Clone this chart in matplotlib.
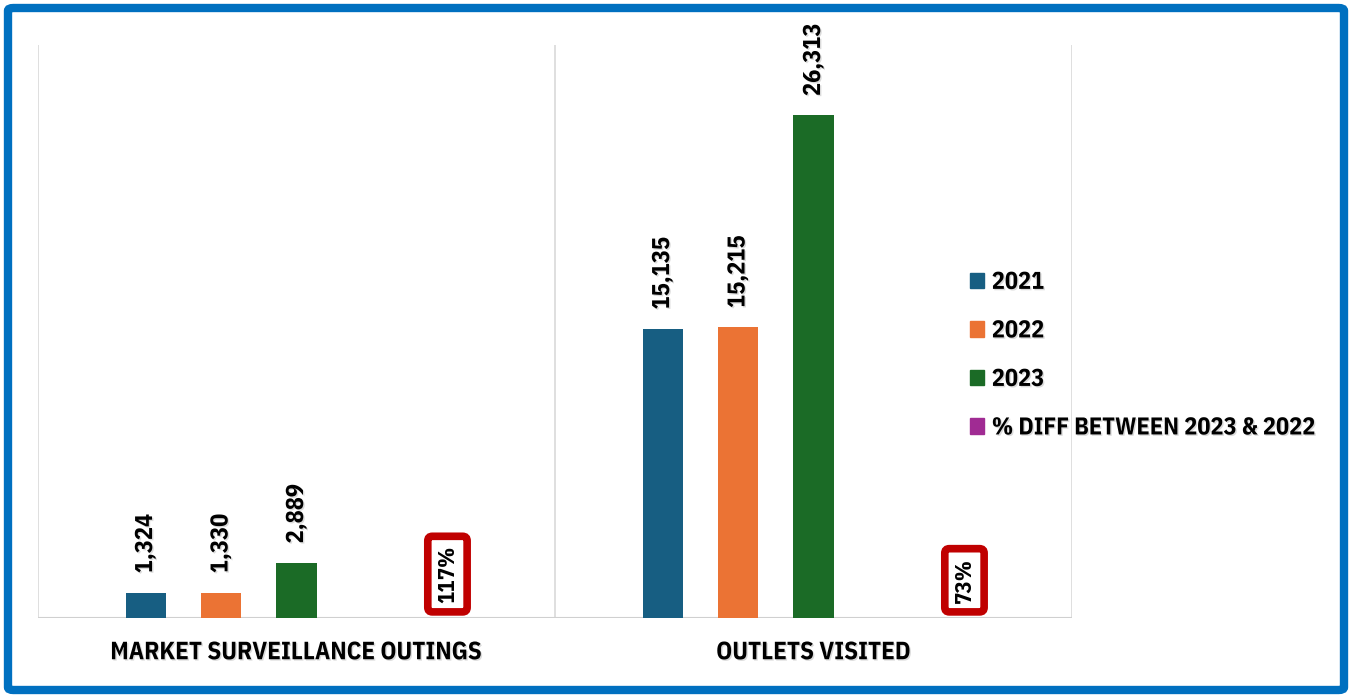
import matplotlib.pyplot as plt
import matplotlib.patheffects as pe
from matplotlib.patches import FancyBboxPatch, Patch
import numpy as np

plt.rcParams['font.family'] = ['IBM Plex Sans Condensed', 'DejaVu Sans']
plt.rcParams['font.weight'] = 'bold'

categories = ["MARKET SURVEILLANCE OUTINGS", "OUTLETS VISITED"]
series_names = ["2021", "2022", "2023", "% DIFF BETWEEN 2023 & 2022"]
v2021 = [1324, 15135]
v2022 = [1330, 15215]
v2023 = [2889, 26313]
pct_diff = [117, 73]

colors = ["#175E82", "#EB7334", "#1B6B26", "#A02B93"]
shadow = [pe.SimplePatchShadow(offset=(1, -1), shadow_rgbFace="#888888", alpha=0.3), pe.Normal()]

fig = plt.figure(figsize=(13.51, 6.98), dpi=100)
ax = fig.add_axes([38 / 1351, 80 / 698, 1034 / 1351, 573 / 698])

x = np.arange(len(categories))
offsets = [-0.292, -0.146, 0.0, 0.292]
width = 0.0774

for vals, off, c in zip([v2021, v2022, v2023], offsets[:3], colors[:3]):
    bars = ax.bar(x + off, vals, width, color=c, zorder=3)
    for b, v in zip(bars, vals):
        ax.annotate(f"{v:,}", (b.get_x() + b.get_width() / 2, v), xytext=(0, 14),
                    textcoords="offset points", rotation=90, ha="center", va="bottom",
                    fontsize=17.5, fontweight="bold", path_effects=shadow)

# percentage difference sits on the same axis as a near-zero bar
pbars = ax.bar(x + offsets[3], [p / 100 for p in pct_diff], width, color=colors[3], zorder=3)
for b, p in zip(pbars, pct_diff):
    ax.annotate(f"{p}%", (b.get_x() + b.get_width() / 2, 0), xytext=(0, 11),
                textcoords="offset points", rotation=90, ha="center", va="bottom",
                fontsize=16.5, fontweight="bold", zorder=5,
                bbox=dict(boxstyle="round,pad=0.4,rounding_size=0.2", fc="white",
                          ec="#C00000", lw=5.5))

ax.set_xlim(-0.5, 1.5)
ax.set_ylim(0, 30000)
for s in ax.spines.values():
    s.set_visible(False)
ax.axhline(0, color="#D0D0D0", lw=1.5, zorder=2)
for gx in [-0.5, 0.5, 1.5]:
    ax.axvline(gx, color="#D9D9D9", lw=1.2, zorder=1)
ax.set_yticks([])
ax.set_xticks(x)
ax.set_xticklabels(categories, fontsize=18, fontweight="bold")
for t in ax.get_xticklabels():
    t.set_path_effects(shadow)
ax.tick_params(axis="x", length=0, pad=16)

handles = [Patch(color=c) for c in colors]
leg = fig.legend(handles, series_names, loc="upper left", bbox_to_anchor=(948 / 1351, 1 - 249 / 698),
                 frameon=False, handlelength=0.6, handleheight=0.6,
                 handletextpad=0.3, labelspacing=1.05, prop={"weight": "bold", "size": 17.5})
for t in leg.get_texts():
    t.set_path_effects(shadow)

# rounded blue frame around the whole figure
fig.patches.append(FancyBboxPatch((8 / 1351, 8 / 698), 1336 / 1351, 682 / 698,
                                  boxstyle="round,pad=0,rounding_size=0.004",
                                  transform=fig.transFigure, fill=False,
                                  ec="#0070C0", lw=6))

fig.savefig("out.png", dpi=100)
